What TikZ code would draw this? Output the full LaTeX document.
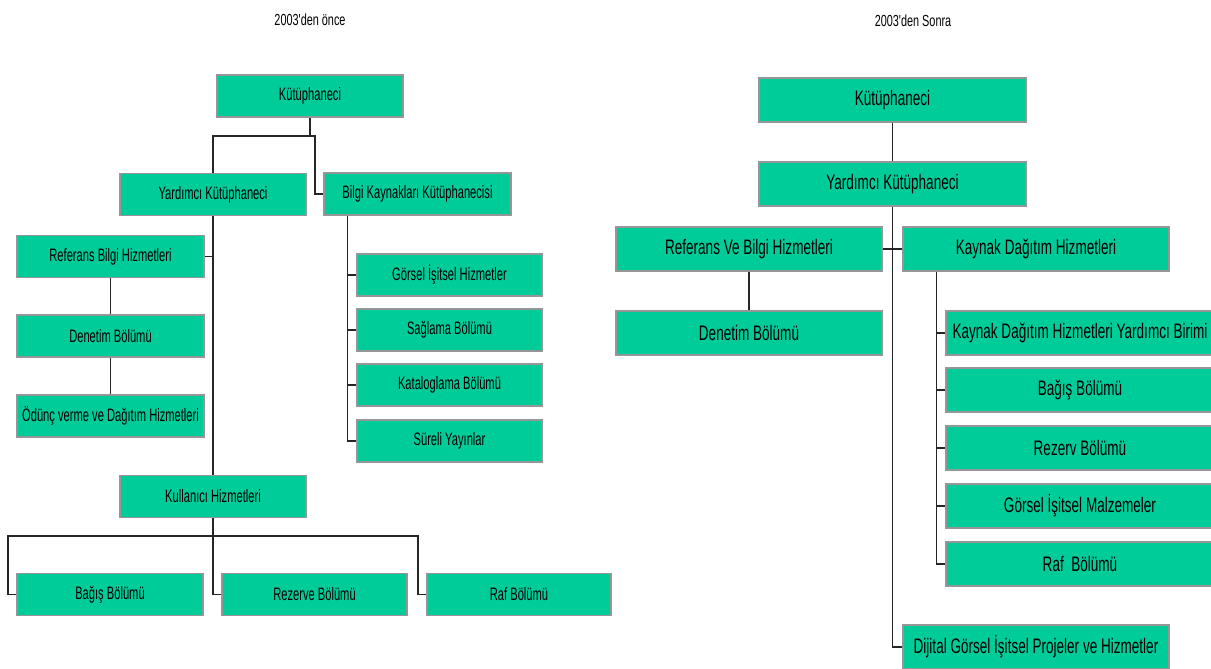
\documentclass[tikz,border=0pt]{standalone}
\usepackage{fontspec}
\setmainfont{Liberation Sans}
\newfontfamily\narrowL[FakeStretch=0.62]{Liberation Sans}
\newfontfamily\narrowR[FakeStretch=0.645]{Liberation Sans}
\newfontfamily\narrowT[FakeStretch=0.68]{Liberation Sans}
\usetikzlibrary{calc}
\definecolor{boxfill}{RGB}{0,204,153}
\definecolor{boxline}{RGB}{150,150,150}
\tikzset{
  orgbox/.style={draw=boxline, line width=1.2pt, fill=boxfill, rectangle,
    inner sep=0pt, text=black},
  lbox/.style={orgbox, minimum width=186pt, minimum height=42pt,
    font=\narrowL\fontsize{18}{20}\selectfont},
  rbox/.style={orgbox, minimum width=266pt, minimum height=44pt,
    font=\narrowR\fontsize{21}{23}\selectfont},
  edgebox/.style={rbox, minimum width=268pt},
  link/.style={draw=black!85, line width=1.2pt},
  heading/.style={font=\narrowT\fontsize{16}{18}\selectfont, text=black}
}
\begin{document}
\begin{tikzpicture}[x=1pt, y=-1pt]
\clip (0,0) rectangle (1211,669);
\fill[white] (0,0) rectangle (1211,669);

% ---------- headings ----------
\node[heading] (tL) at (310,20) {2003'den önce};
\node[heading] (tR) at (913,21) {2003'den Sonra};

% ---------- organisation before 2003 ----------
\node[lbox] (Lkut)  at (310,96)    {Kütüphaneci};
\node[lbox] (Lyar)  at (213,194.5) {Yardımcı Kütüphaneci};
\node[lbox, minimum width=187pt] (Lbil) at (417.5,194) {Bilgi Kaynakları Kütüphanecisi};
\node[lbox, minimum width=187pt] (Lref) at (110.5,256.5) {Referans Bilgi Hizmetleri};
\node[lbox, minimum width=187pt] (Lden) at (110.5,336) {Denetim Bölümü};
\node[lbox, minimum width=187pt] (Lodu) at (110.5,416) {Ödünç verme ve Dağıtım Hizmetleri};
\node[lbox] (Lkul)  at (213,496.5) {Kullanıcı Hizmetleri};
\node[lbox] (Lbag)  at (110,594.5) {Bağış Bölümü};
\node[lbox, minimum width=185pt] (Lrez) at (314.5,594.5) {Rezerve Bölümü};
\node[lbox, minimum width=184pt] (Lraf) at (519,594.5) {Raf Bölümü};
\node[lbox, minimum width=185pt] (Lgor) at (449.5,275) {Görsel İşitsel Hizmetler};
\node[lbox, minimum width=185pt] (Lsag) at (449.5,330) {Sağlama Bölümü};
\node[lbox, minimum width=185pt] (Lkat) at (449.5,385) {Kataloglama Bölümü};
\node[lbox, minimum width=185pt] (Lsur) at (449.5,441) {Süreli Yayınlar};

\coordinate (Lb1) at (315,136);
\draw[link] (Lkut.south) -- (Lkut.south |- Lb1);
\draw[link] (Lyar.north) |- (Lb1) |- (Lbil.west);
\draw[link] (Lyar.south) -- (Lkul.north);
\draw[link] (Lref.east) -- (Lref.east -| Lyar.south);
\draw[link] (Lref.south) -- (Lden.north);
\draw[link] (Lden.south) -- (Lodu.north);

\coordinate (Lbv) at ([xshift=24pt]Lbil.south west);
\draw[link] (Lbv) |- (Lsur.west);
\draw[link] (Lgor.west) -- (Lgor.west -| Lbv);
\draw[link] (Lsag.west) -- (Lsag.west -| Lbv);
\draw[link] (Lkat.west) -- (Lkat.west -| Lbv);

\coordinate (Lk1) at (8,536);
\coordinate (Lk2) at (418,536);
\draw[link] (Lbag.west) -| (Lk1) -- (Lk2) |- (Lraf.west);
\draw[link] (Lkul.south) |- (Lrez.west);

% ---------- organisation after 2003 ----------
\node[rbox, minimum width=267pt] (Rkut) at (892.5,100) {Kütüphaneci};
\node[rbox, minimum width=267pt] (Ryar) at (892.5,184) {Yardımcı Kütüphaneci};
\node[rbox] (Rref) at (749,249)  {Referans Ve Bilgi Hizmetleri};
\node[rbox] (Rkay) at (1036,249) {Kaynak Dağıtım Hizmetleri};
\node[rbox] (Rden) at (749,333)  {Denetim Bölümü};
\node[edgebox] (Rkyb) at (1080,333) {Kaynak Dağıtım Hizmetleri Yardımcı Birimi};
\node[edgebox] (Rbag) at (1080,390) {Bağış Bölümü};
\node[edgebox] (Rrez) at (1080,448) {Rezerv Bölümü};
\node[edgebox] (Rgor) at (1080,506) {Görsel İşitsel Malzemeler};
\node[edgebox] (Rraf) at (1080,564) {Raf\ \ Bölümü};
\node[rbox] (Rdij) at (1036,647) {Dijital Görsel İşitsel Projeler ve Hizmetler};

\draw[link] (Rkut.south) -- (Ryar.north);
\draw[link] (Ryar.south) |- (Rdij.west);
\draw[link] (Rref.east) -- (Rkay.west);
\draw[link] (Rref.south) -- (Rden.north);

\coordinate (Rkv) at ([xshift=34pt]Rkay.south west);
\draw[link] (Rkv) |- (Rraf.west);
\draw[link] (Rkyb.west) -- (Rkyb.west -| Rkv);
\draw[link] (Rbag.west) -- (Rbag.west -| Rkv);
\draw[link] (Rrez.west) -- (Rrez.west -| Rkv);
\draw[link] (Rgor.west) -- (Rgor.west -| Rkv);
\end{tikzpicture}
\end{document}
